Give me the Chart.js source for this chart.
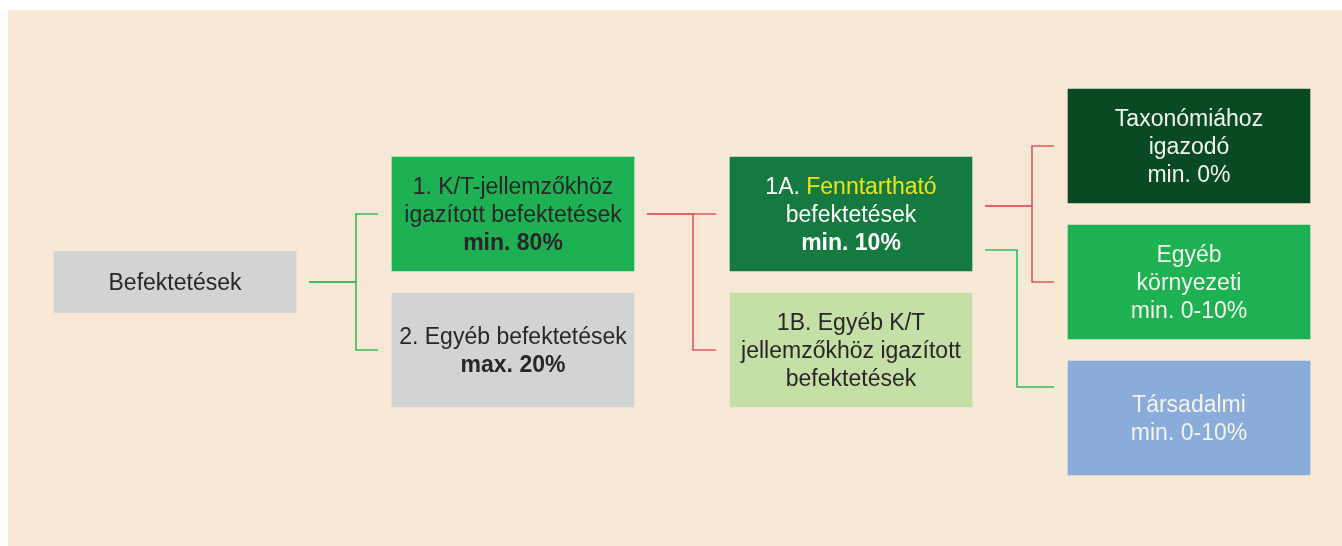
<!DOCTYPE html>
<html>
<head>
<meta charset="utf-8">
<script src="https://cdn.jsdelivr.net/npm/chart.js@4.4.1/dist/chart.umd.min.js"></script>
<style>
  html, body { margin: 0; padding: 0; background: #fff; }
  canvas { display: block; }
</style>
</head>
<body>
<canvas id="flowChart" width="1342" height="546"></canvas>
<script>
// diagram content
const categories = [
    ['Befektetések'],
    ['1. K/T-jellemzőkhöz', 'igazított befektetések'],
    ['2. Egyéb befektetések'],
    ['1A. Fenntartható', 'befektetések'],
    ['1B. Egyéb K/T', 'jellemzőkhöz igazított', 'befektetések'],
    ['Taxonómiához', 'igazodó'],
    ['Egyéb', 'környezeti'],
    ['Társadalmi']
];
const shares = ['', 'min. 80%', 'max. 20%', 'min. 10%', '', 'min. 0%', 'min. 0-10%', 'min. 0-10%'];
const levels = [0, 1, 1, 2, 2, 3, 3, 3];   // column in the tree
const slots = [2, 1, 3, 1, 3, 0, 2, 4];    // row in the tree
const parents = [null, 0, 0, 1, 1, 3, 3, 3];

// look
const PX_LEVEL = 338, PX_SLOT = 68, X0 = 175, Y0 = 146;
const BOX_W = 242 / PX_LEVEL / 2;
const boxColors = ['#D1D3D4', '#1EB153', '#D1D3D4', '#147A3F', '#C5E0A6', '#074A23', '#1EB153', '#89ACDA'];
const textColors = ['#2A2627', '#2A2627', '#2A2627', '#FFFFFF', '#2A2627', '#F4F4EE', '#F4F4EE', '#F4F4EE'];
const highlight = { 3: 'Fenntartható' };
const RED = '#E2585C', GREEN = '#34B85B';

const rootIdx = [0];
const restIdx = [1, 2, 3, 4, 5, 6, 7];
const toBar = i => ({ y: slots[i], x: [levels[i] - BOX_W, levels[i] + BOX_W] });

// connector look per child: colour, exit dy, elbow offset, entry dy
const linkStyle = {
    1: { color: GREEN, exitDy: 0, elbow: 60, entryDy: 0 },
    2: { color: GREEN, exitDy: 0, elbow: 60, entryDy: 0 },
    3: { color: RED, exitDy: 0, elbow: 59, entryDy: 0 },
    4: { color: RED, exitDy: 0, elbow: 59, entryDy: 0 },
    5: { color: RED, exitDy: -8, elbow: 60, entryDy: 0 },
    6: { color: RED, exitDy: -8, elbow: 60, entryDy: 0 },
    7: { color: GREEN, exitDy: 36, elbow: 45, entryDy: -31 }
};

const backdrop = {
    id: 'backdrop',
    beforeDraw(chart) {
        const c = chart.ctx;
        c.save();
        c.fillStyle = '#FFFFFF';
        c.fillRect(0, 0, chart.width, chart.height);
        c.fillStyle = '#F8E9D7';
        c.fillRect(8, 10, chart.width - 8, chart.height - 10);
        c.restore();
    }
};

const connectors = {
    id: 'connectors',
    beforeDatasetsDraw(chart) {
        const c = chart.ctx, xs = chart.scales.x, ys = chart.scales.y;
        c.save();
        c.lineWidth = 1.6;
        parents.forEach((p, i) => {
            if (p === null) return;
            const s = linkStyle[i];
            const x1 = xs.getPixelForValue(levels[p] + BOX_W) + 13;
            const y1 = ys.getPixelForValue(slots[p]) + s.exitDy;
            const xe = xs.getPixelForValue(levels[p] + BOX_W) + s.elbow;
            const x2 = xs.getPixelForValue(levels[i] - BOX_W) - 14;
            const y2 = ys.getPixelForValue(slots[i]) + s.entryDy;
            c.strokeStyle = s.color;
            c.beginPath();
            c.moveTo(x1, y1);
            c.lineTo(xe, y1);
            c.lineTo(xe, y2);
            c.lineTo(x2, y2);
            c.stroke();
        });
        c.restore();
    }
};

const boxText = {
    id: 'boxText',
    afterDatasetsDraw(chart) {
        const c = chart.ctx, xs = chart.scales.x, ys = chart.scales.y;
        const LH = 28;
        c.save();
        c.textBaseline = 'middle';
        categories.forEach((lines, i) => {
            const all = lines.map(t => ({ text: t, bold: false }));
            if (shares[i]) all.push({ text: shares[i], bold: levels[i] < 3 });
            const cx = xs.getPixelForValue(levels[i]);
            const cy = ys.getPixelForValue(slots[i]) + 2;
            all.forEach((ln, k) => {
                const y = cy + (k - (all.length - 1) / 2) * LH;
                c.font = (ln.bold ? 'bold ' : '') + '23px "Liberation Sans", Arial, sans-serif';
                const hw = highlight[i];
                if (hw && ln.text.indexOf(hw) >= 0) {
                    const pre = ln.text.slice(0, ln.text.indexOf(hw));
                    const w = c.measureText(ln.text).width;
                    c.textAlign = 'left';
                    c.fillStyle = textColors[i];
                    c.fillText(pre, cx - w / 2, y);
                    c.fillStyle = '#EFE21C';
                    c.fillText(hw, cx - w / 2 + c.measureText(pre).width, y);
                } else {
                    c.textAlign = 'center';
                    c.fillStyle = textColors[i];
                    c.fillText(ln.text, cx, y);
                }
            });
        });
        c.restore();
    }
};

const ctx = document.getElementById('flowChart').getContext('2d');
const flowChart = new Chart(ctx, {
    type: 'bar',
    data: {
        datasets: [{
            label: 'root',
            data: rootIdx.map(toBar),
            backgroundColor: rootIdx.map(i => boxColors[i]),
            barThickness: 61,
            stack: 'boxes'
        }, {
            label: 'boxes',
            data: restIdx.map(toBar),
            backgroundColor: restIdx.map(i => boxColors[i]),
            barThickness: 114,
            stack: 'boxes'
        }]
    },
    options: {
        indexAxis: 'y',
        responsive: false,
        animation: false,
        borderSkipped: false,
        layout: { padding: 0 },
        scales: {
            x: { type: 'linear', display: false, stacked: false, offset: false, min: -X0 / PX_LEVEL, max: (1342 - X0) / PX_LEVEL },
            y: { type: 'linear', display: false, offset: false, reverse: true, min: -Y0 / PX_SLOT, max: (546 - Y0) / PX_SLOT }
        },
        plugins: {
            legend: { display: false },
            tooltip: { enabled: false }
        }
    },
    plugins: [backdrop, connectors, boxText]
});
</script>
</body>
</html>
